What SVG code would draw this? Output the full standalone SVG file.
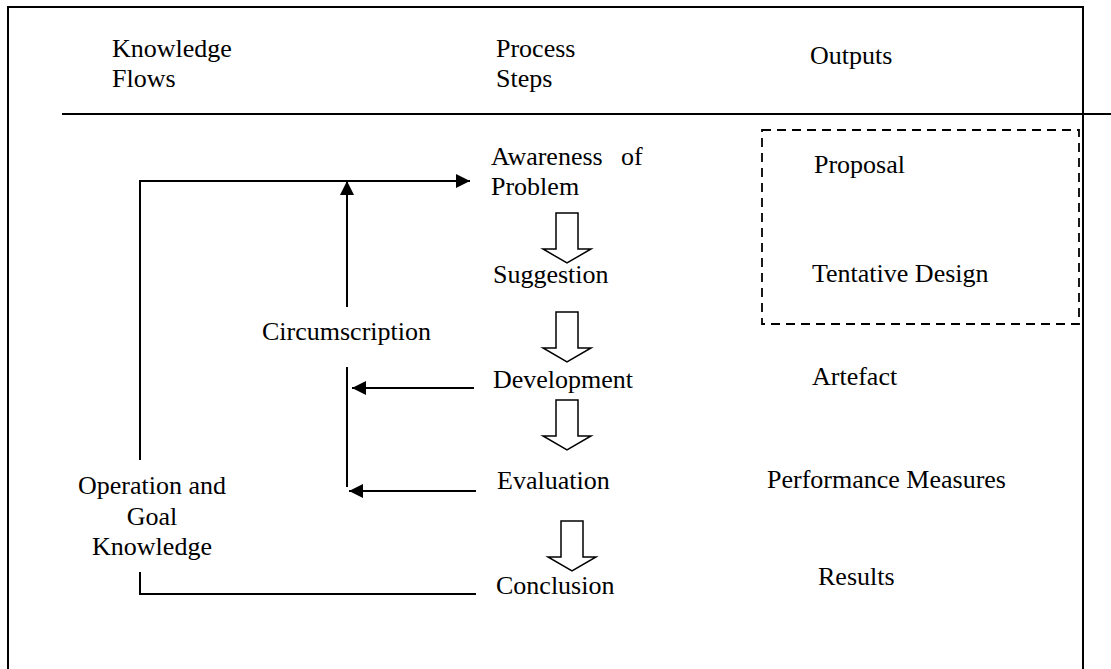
<svg xmlns="http://www.w3.org/2000/svg" width="1111" height="669" viewBox="0 0 1111 669" font-family="'Liberation Serif', 'DejaVu Serif', serif">
  <style>
    text { font-family: 'Liberation Serif', 'DejaVu Serif', serif; font-size: 26px; fill: #000; }
    .frame { fill: none; stroke: #000; stroke-width: 2; }
    .flow { fill: none; stroke: #000; stroke-width: 2; }
    .step { fill: #fff; stroke: #000; stroke-width: 1.5; stroke-linejoin: miter; }
    .group { fill: none; stroke: #000; stroke-width: 1.8; stroke-dasharray: 9 6; }
  </style>
  <defs>
    <marker id="head" markerUnits="userSpaceOnUse" markerWidth="16" markerHeight="16" viewBox="0 0 16 16" refX="15" refY="8" orient="auto">
      <path d="M1,1 L15,8 L1,15 Z" fill="#000"/>
    </marker>
    <path id="down" class="step" d="M-11,0 H11 V36 H24 L0,50 L-24,36 H-11 Z"/>
  </defs>

  <rect width="1111" height="669" fill="#fff"/>

  <!-- outer frame (open at the bottom) and header rule -->
  <g id="frame">
    <path class="frame" d="M8,669 V7 H1083 V669"/>
    <line class="frame" x1="62" y1="114" x2="1111" y2="114"/>
  </g>

  <!-- column headings -->
  <g id="heading-knowledge">
    <text x="112" y="57">Knowledge</text>
    <text x="112" y="87">Flows</text>
  </g>
  <g id="heading-process">
    <text x="496" y="57">Process</text>
    <text x="496" y="87">Steps</text>
  </g>
  <g id="heading-outputs">
    <text x="810" y="64">Outputs</text>
  </g>

  <!-- process steps -->
  <g id="step-awareness">
    <text x="491" y="165">Awareness</text>
    <text x="621" y="165">of</text>
    <text x="491" y="195">Problem</text>
  </g>
  <g id="step-suggestion"><text x="493" y="283">Suggestion</text></g>
  <g id="step-development"><text x="493" y="388">Development</text></g>
  <g id="step-evaluation"><text x="497" y="489">Evaluation</text></g>
  <g id="step-conclusion"><text x="496" y="594">Conclusion</text></g>

  <!-- knowledge flows -->
  <g id="flow-circumscription"><text x="262" y="340">Circumscription</text></g>
  <g id="flow-operation" text-anchor="middle">
    <text x="152" y="494">Operation and</text>
    <text x="152" y="525">Goal</text>
    <text x="152" y="555">Knowledge</text>
  </g>

  <!-- outputs -->
  <g id="output-group">
    <rect class="group" x="762" y="130" width="317" height="194"/>
  </g>
  <g id="output-proposal"><text x="814" y="173">Proposal</text></g>
  <g id="output-design"><text x="812" y="282">Tentative Design</text></g>
  <g id="output-artefact"><text x="812" y="385">Artefact</text></g>
  <g id="output-performance"><text x="767" y="488">Performance Measures</text></g>
  <g id="output-results"><text x="818" y="585">Results</text></g>

  <!-- connectors -->
  <g id="connectors">
    <!-- step-to-step block arrows -->
    <use href="#down" x="567" y="213"/>
    <use href="#down" x="567" y="312"/>
    <use href="#down" x="567" y="400"/>
    <use href="#down" x="572" y="521"/>

    <!-- operation and goal knowledge loop -->
    <path class="flow" d="M140,460 V181 H470" marker-end="url(#head)"/>
    <path class="flow" d="M140,572 V594 H476"/>

    <!-- circumscription feedback -->
    <line class="flow" x1="347" y1="307" x2="347" y2="181" marker-end="url(#head)"/>
    <line class="flow" x1="347" y1="367" x2="347" y2="487"/>
    <line class="flow" x1="474" y1="388" x2="352" y2="388" marker-end="url(#head)"/>
    <line class="flow" x1="476" y1="491" x2="349" y2="491" marker-end="url(#head)"/>
  </g>
</svg>
